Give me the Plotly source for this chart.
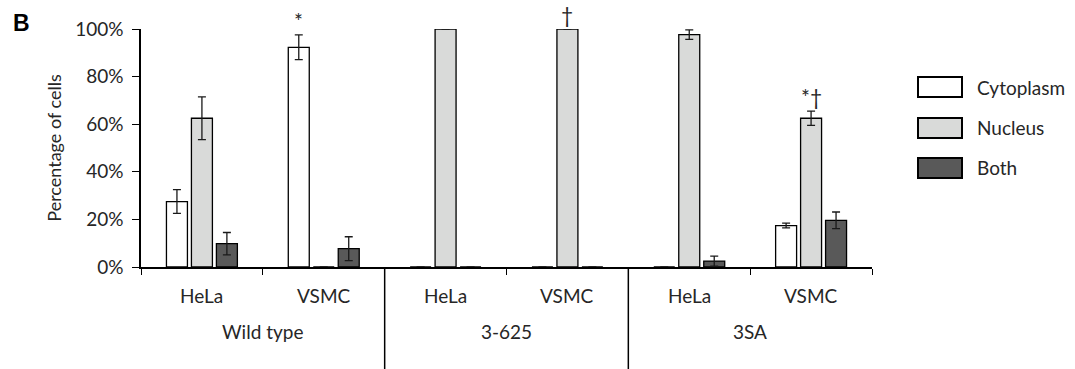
import plotly.graph_objects as go

# ---- data ----
groups = ["Wild type", "3-625", "3SA"]
cells = ["HeLa", "VSMC"]
series_names = ["Cytoplasm", "Nucleus", "Both"]
cytoplasm = [27.5, 92.3, 0, 0, 0, 17.4]
cytoplasm_err = [5.0, 5.2, 0, 0, 0, 1.0]
nucleus = [62.5, 0, 100, 100, 97.6, 62.5]
nucleus_err = [9.0, 0, 0, 0, 2.0, 3.0]
both = [9.8, 7.7, 0, 0, 2.5, 19.6]
both_err = [4.7, 5.0, 0, 0, 2.1, 3.5]
significance = [(1, 0, "*"), (3, 1, "†"), (5, 1, "*†")]  # (category index, series index, mark)
y_ticks = [0, 20, 40, 60, 80, 100]

# ---- layout geometry ----
W, H = 1075, 369
L, R, T, B = 141, 872, 29, 267
FONT = "Lato"
TXT = "#262626"
fills = ["#ffffff", "#d9dad9", "#595959"]
bargap, bargroupgap = 0.385, 0.16

def pxx(p):
    return (p - L) / (R - L)

def pxy(p):
    return (B - p) / (B - T)

cats = [f"{g} {c}" for g in groups for c in cells]
values = [cytoplasm, nucleus, both]
errors = [cytoplasm_err, nucleus_err, both_err]

fig = go.Figure()
for name, v, e, col in zip(series_names, values, errors, fills):
    fig.add_trace(go.Bar(
        name=name, x=cats, y=v,
        marker=dict(color=col, line=dict(color="#000000", width=1.3)),
        error_y=dict(type="data", array=e, visible=True, color="#1a1a1a", thickness=1.3, width=4),
        showlegend=False,
    ))

annotations = []
shapes = []

# cell labels and group labels
for gi, g in enumerate(groups):
    for ci, c in enumerate(cells):
        idx = gi * len(cells) + ci
        annotations.append(dict(x=idx, y=pxy(295), xref="x", yref="paper", text=c,
                                xanchor="center", yanchor="middle",
                                showarrow=False, font=dict(family=FONT, size=19, color=TXT)))
    annotations.append(dict(x=gi * len(cells) + (len(cells) - 1) / 2, y=pxy(331), xref="x", yref="paper",
                            text=g, xanchor="center", yanchor="middle",
                            showarrow=False, font=dict(family=FONT, size=19, color=TXT)))
    if gi > 0:
        xd = gi * len(cells) - 0.5
        shapes.append(dict(type="line", xref="x", yref="paper", x0=xd, x1=xd, y0=0, y1=pxy(H + 2),
                           line=dict(color="#000000", width=1.5)))

# significance marks
slot = (1 - bargap) / len(series_names)
for idx, si, mark in significance:
    off = (si - (len(series_names) - 1) / 2) * slot
    top = values[si][idx] + errors[si][idx]
    annotations.append(dict(x=idx + off, y=top, xref="x", yref="y", text=mark, showarrow=False,
                            xanchor="center", yanchor="bottom", yshift=0,
                            font=dict(family=FONT, size=21, color=TXT)))

# panel letter
annotations.append(dict(x=pxx(11), y=pxy(8), xref="paper", yref="paper", text="<b>B</b>",
                        showarrow=False, xanchor="left", yanchor="top",
                        font=dict(family="Liberation Sans", size=23, color="#000000")))

# custom legend
leg_y = [87, 128, 168]
for name, col, yc in zip(series_names, fills, leg_y):
    shapes.append(dict(type="rect", xref="paper", yref="paper", x0=pxx(918), x1=pxx(962),
                       y0=pxy(yc + 10), y1=pxy(yc - 10), fillcolor=col,
                       line=dict(color="#000000", width=2)))
    annotations.append(dict(x=pxx(975), y=pxy(yc), xref="paper", yref="paper", text=name,
                            showarrow=False, xanchor="left", yanchor="middle",
                            font=dict(family=FONT, size=19, color=TXT)))

fig.update_layout(
    width=W, height=H,
    margin=dict(l=L, r=W - R, t=T, b=H - B, pad=0),
    paper_bgcolor="white", plot_bgcolor="white",
    barmode="group", bargap=bargap, bargroupgap=bargroupgap,
    annotations=annotations, shapes=shapes,
    xaxis=dict(type="category", range=[-0.5, len(cats) - 0.5], showticklabels=False,
               tickson="boundaries", ticks="outside", ticklen=6, tickcolor="#000000",
               showline=True, linecolor="#000000", linewidth=1.5, showgrid=False, zeroline=False),
    yaxis=dict(range=[0, 100], tickvals=y_ticks, ticktext=[f"{t}%" for t in y_ticks],
               ticks="outside", ticklen=7, tickcolor="#000000", showline=True, linecolor="#000000",
               linewidth=1.5, showgrid=False, zeroline=False, ticklabelstandoff=5,
               tickfont=dict(family=FONT, size=19, color=TXT),
               title=dict(text="Percentage of cells", standoff=9, font=dict(family=FONT, size=18, color=TXT))),
    font=dict(family=FONT, color=TXT),
)

fig.write_html("out.html", config={"displayModeBar": False},
               post_script="document.body.style.margin='0';document.body.style.overflow='hidden';")
